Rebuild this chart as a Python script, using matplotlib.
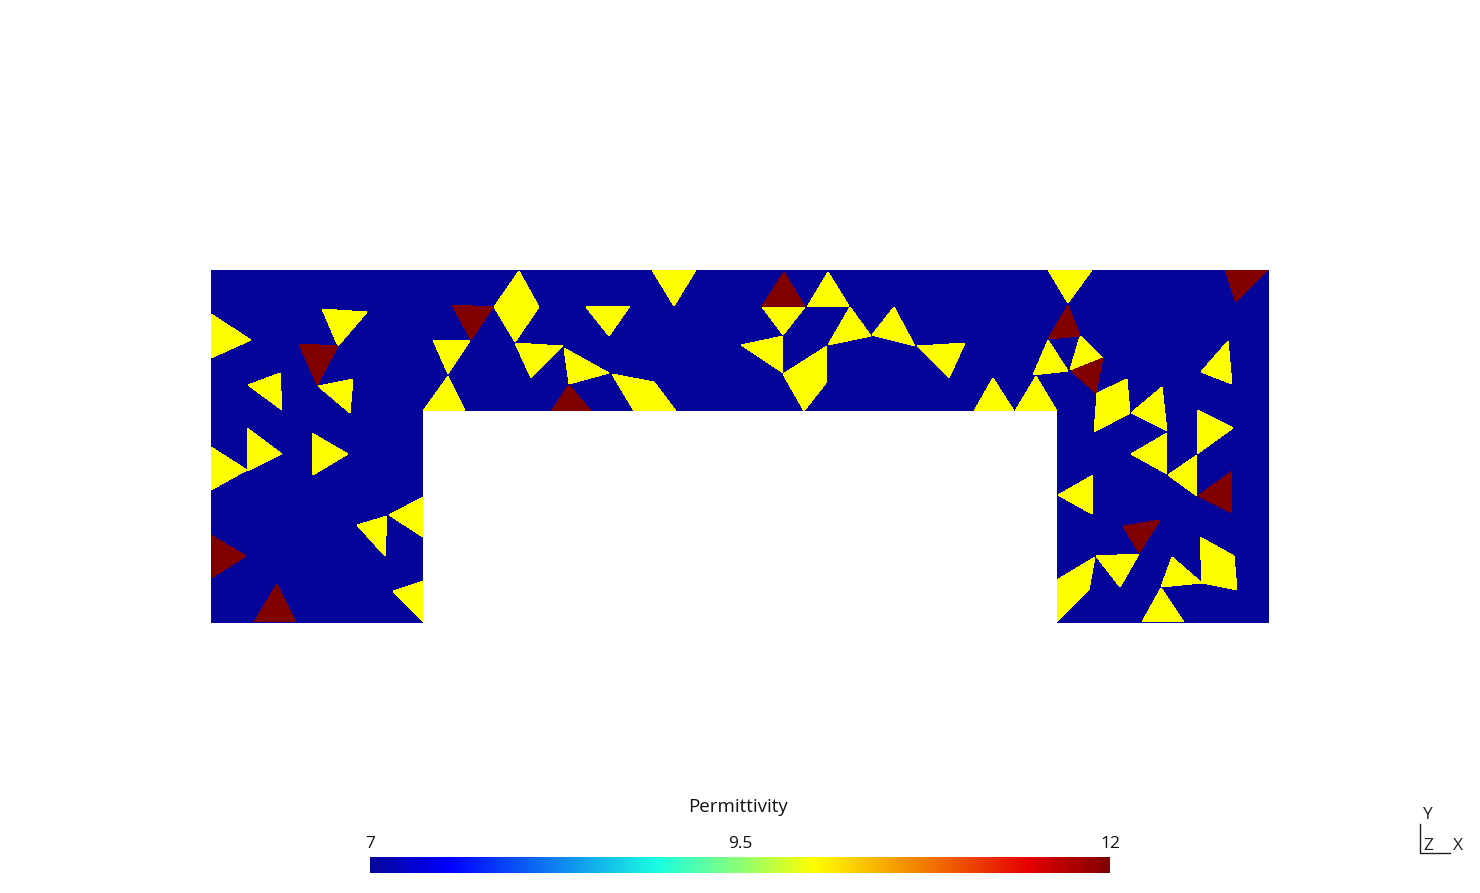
import numpy as np
import matplotlib
matplotlib.use("Agg")
import matplotlib.pyplot as plt
from matplotlib.collections import PolyCollection
from matplotlib.colors import LinearSegmentedColormap, Normalize
from matplotlib.cm import ScalarMappable

plt.rcParams['font.family'] = ['Open Sans', 'DejaVu Sans']

# permittivity of each material
eps_host = 7
eps_yellow = 10
eps_red = 12
cbar_ticks = [7, 9.5, 12]
cbar_title = "Permittivity"

# outline of the domain
domain = [(211, 270), (1269, 270), (1269, 623), (1057, 623), (1057, 411),
          (423, 411), (423, 623), (211, 623)]

yellow = [
    [(211, 314), (251, 340), (211, 358)],
    [(322, 309), (367, 312), (338, 346)],
    [(248, 385), (280, 373), (282, 410)],
    [(318, 386), (353, 379), (350, 413)],
    [(247, 428), (282, 454), (248, 471)],
    [(211, 447), (247, 470), (211, 490)],
    [(312, 433), (348, 454), (313, 475)],
    [(389, 515), (423, 497), (423, 537)],
    [(357, 525), (387, 516), (385, 556)],
    [(393, 591), (423, 581), (423, 622)],
    [(519, 271), (539, 307), (515, 342), (494, 307)],
    [(586, 307), (630, 306), (609, 336)],
    [(652, 270), (696, 270), (674, 306)],
    [(433, 340), (470, 341), (448, 374)],
    [(448, 376), (465, 411), (423, 411)],
    [(515, 343), (563, 346), (531, 378)],
    [(564, 348), (609, 373), (569, 384)],
    [(612, 374), (654, 382), (676, 411), (634, 411)],
    [(828, 272), (849, 306), (807, 307)],
    [(762, 307), (805, 307), (783, 335)],
    [(850, 307), (871, 336), (828, 345)],
    [(894, 307), (915, 346), (872, 335)],
    [(917, 346), (965, 343), (949, 378)],
    [(741, 345), (783, 336), (783, 373)],
    [(827, 346), (826, 383), (804, 411), (783, 374)],
    [(993, 378), (1014, 411), (974, 411)],
    [(1036, 376), (1057, 411), (1015, 411)],
    [(1048, 340), (1068, 371), (1033, 375)],
    [(1048, 270), (1092, 270), (1068, 303)],
    [(1080, 336), (1103, 358), (1070, 370)],
    [(1127, 379), (1130, 413), (1094, 432), (1097, 393)],
    [(1162, 387), (1167, 431), (1131, 413)],
    [(1167, 433), (1167, 474), (1131, 454)],
    [(1197, 455), (1197, 496), (1168, 475)],
    [(1198, 410), (1233, 428), (1197, 454)],
    [(1228, 341), (1232, 384), (1201, 372)],
    [(1093, 475), (1092, 514), (1058, 495)],
    [(1139, 554), (1120, 587), (1096, 556)],
    [(1095, 557), (1089, 590), (1057, 622), (1057, 580)],
    [(1172, 557), (1202, 583), (1161, 587)],
    [(1200, 537), (1234, 556), (1237, 590), (1202, 583)],
    [(1161, 588), (1184, 622), (1142, 622)],
]

red = [
    [(299, 344), (338, 346), (317, 385)],
    [(211, 535), (246, 556), (211, 578)],
    [(277, 584), (296, 622), (254, 622)],
    [(452, 305), (493, 307), (471, 340)],
    [(569, 385), (591, 411), (551, 411)],
    [(784, 272), (805, 307), (762, 306)],
    [(1068, 305), (1080, 336), (1048, 339)],
    [(1103, 358), (1096, 393), (1071, 371)],
    [(1232, 471), (1232, 513), (1198, 496)],
    [(1225, 270), (1268, 270), (1236, 302)],
    [(1160, 520), (1139, 553), (1123, 526)],
]

# paraview style jet, stops moved to match the bar in the picture
jet = LinearSegmentedColormap.from_list("pv_jet", [
    (0.0, (0.02, 0.02, 0.6)),
    (0.108, (0, 0, 1)),
    (0.39, (0.1, 1, 0.88)),
    (0.5, (0.55, 1, 0.45)),
    (0.6, (1, 1, 0)),
    (0.89, (0.9, 0, 0)),
    (1.0, (0.5, 0, 0)),
], N=512)
norm = Normalize(vmin=7, vmax=12)

fig = plt.figure(figsize=(14.8, 8.93), dpi=100)
ax = fig.add_axes([0, 0, 1, 1])
ax.set_xlim(0, 1480)
ax.set_ylim(893, 0)
ax.axis('off')

polys = [domain] + yellow + red
values = np.array([eps_host] + [eps_yellow] * len(yellow) + [eps_red] * len(red))
ax.add_collection(PolyCollection(polys, array=values, cmap=jet, norm=norm,
                                 edgecolors='none', antialiased=False))

# colorbar along the bottom
cax = fig.add_axes([370 / 1480, 1 - 873 / 893, 740 / 1480, 16 / 893])
cb = fig.colorbar(ScalarMappable(norm=norm, cmap=jet), cax=cax, orientation='horizontal')
cb.outline.set_visible(False)
cb.set_ticks(cbar_ticks)
cb.set_ticklabels(['7', '9.5', '12'])
cax.xaxis.set_ticks_position('top')
cax.tick_params(length=0, pad=3.5, labelsize=12.5, labelcolor='#111111')
ax.text(738, 807, cbar_title, ha='center', va='center', fontsize=13.5, color='#111111')

# orientation triad
ax.plot([1420, 1420, 1450], [824, 853, 853], color='#222222', lw=1)
ax.text(1427, 815, "Y", ha='center', va='center', fontsize=12.5, color='#222222')
ax.text(1428, 846, "Z", ha='center', va='center', fontsize=12.5, color='#222222')
ax.text(1458, 846, "X", ha='center', va='center', fontsize=12.5, color='#222222')

fig.savefig("out.png", dpi=100)
